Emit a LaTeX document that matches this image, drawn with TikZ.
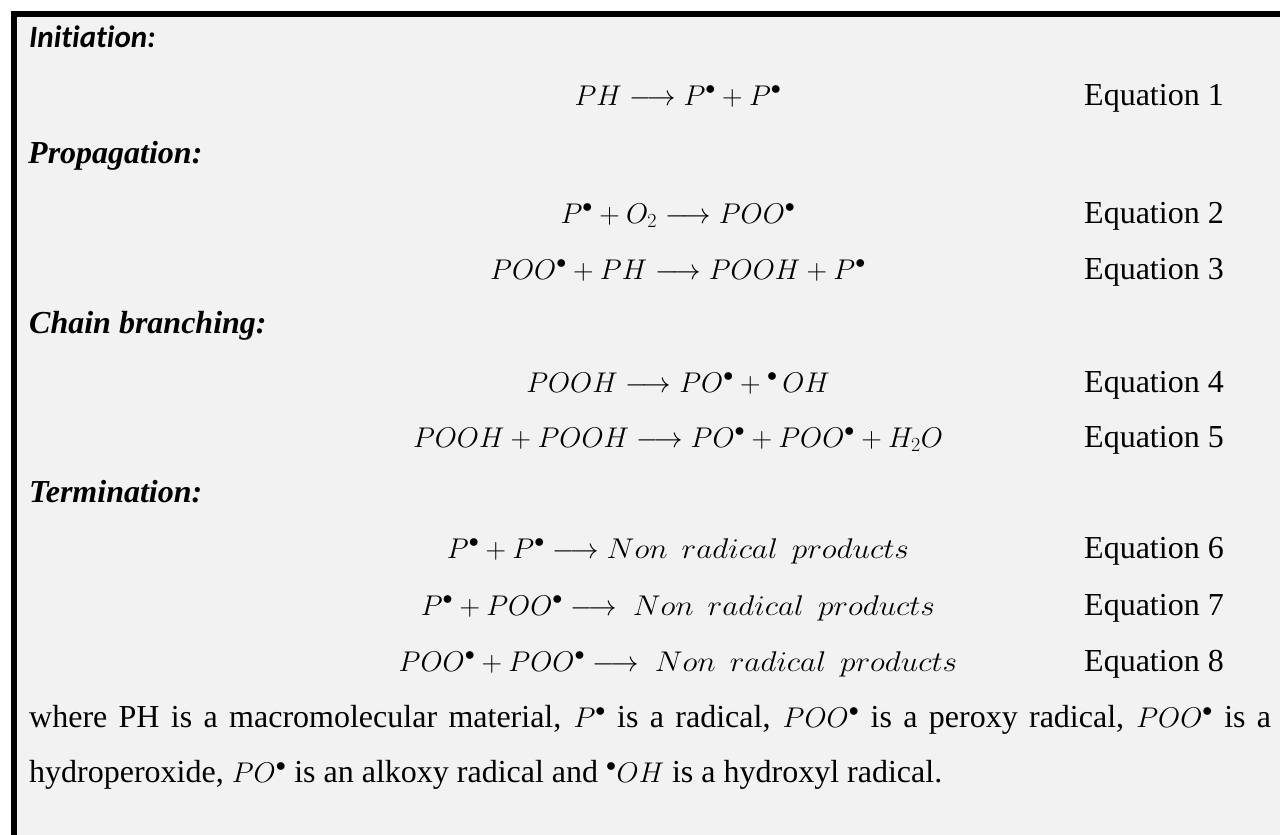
\documentclass[tikz,border=0pt]{standalone}
\usepackage{fix-cm}
\usepackage{graphicx}
\usepackage{fontspec}
\setmainfont{Liberation Serif}
\newfontfamily\calib[Ligatures=NoCommon]{Carlito}
\DeclareMathSizes{32}{28.5}{20}{15}
\newcommand\nrp{\scalebox{1.1}[1]{$Non\ \,radical\ \,products$}}
\definecolor{panel}{HTML}{F2F2F2}
\tikzset{
  head/.style={anchor=base west, inner sep=0pt, font=\fontsize{32}{38}\selectfont\bfseries\itshape},
  eqn/.style={anchor=base, inner sep=0pt, font=\fontsize{32}{38}\selectfont},
  eqlab/.style={anchor=base west, inner sep=0pt, font=\fontsize{32}{38}\selectfont},
  para/.style={anchor=base west, inner sep=0pt, font=\fontsize{32}{38}\selectfont},
}
\begin{document}
\begin{tikzpicture}[x=1pt,y=-1pt]
\useasboundingbox (0,0) rectangle (1280,835);
\fill[white] (0,0) rectangle (1280,835);
\fill[panel] (11,11) rectangle (1280,835);
\draw[line width=5.6pt] (11,13.8) -- (1280,13.8);
\draw[line width=5.6pt] (13.8,11) -- (13.8,835);
% headings
\node[anchor=base west, inner sep=0pt, font=\fontsize{31}{37}\selectfont\calib\bfseries\itshape] (h1) at (29,47) {Initiation:};
\node[head] (h2) at (28,163) {Propagation:};
\node[head] (h3) at (29,333) {Chain branching:};
\node[head] (h4) at (29,502) {Termination:};
% equations
\node[eqn] (e1) at (678,105) {$PH \longrightarrow P^{\bullet} + P^{\bullet}$};
\node[eqn] (e2) at (678,223) {$P^{\bullet} + O_2 \longrightarrow POO^{\bullet}$};
\node[eqn] (e3) at (678,279) {$POO^{\bullet} + PH \longrightarrow POOH + P^{\bullet}$};
\node[eqn] (e4) at (678,392) {$POOH \longrightarrow PO^{\bullet} + {}^{\bullet}\,OH$};
\node[eqn] (e5) at (678,447) {$POOH + POOH \longrightarrow PO^{\bullet} + POO^{\bullet} + H_2O$};
\node[eqn] (e6) at (678,558) {$P^{\bullet} + P^{\bullet} \longrightarrow$ \nrp};
\node[eqn] (e7) at (678,615) {$P^{\bullet} + POO^{\bullet} \longrightarrow \ $ \nrp};
\node[eqn] (e8) at (678,671) {$POO^{\bullet} + POO^{\bullet} \longrightarrow \ $ \nrp};
% labels
\node[eqlab] (l1) at (1084,105) {Equation 1};
\node[eqlab] (l2) at (1084,223) {Equation 2};
\node[eqlab] (l3) at (1084,279) {Equation 3};
\node[eqlab] (l4) at (1084,392) {Equation 4};
\node[eqlab] (l5) at (1084,447) {Equation 5};
\node[eqlab] (l6) at (1084,558) {Equation 6};
\node[eqlab] (l7) at (1084,615) {Equation 7};
\node[eqlab] (l8) at (1084,671) {Equation 8};
% paragraph
\node[para] (p1) at (29,727) {\makebox[1242pt][s]{where PH is a macromolecular material, $P^{\bullet}$ is a radical, $POO^{\bullet}$ is a peroxy radical, $POO^{\bullet}$ is a}};
\node[para] (p2) at (29,782) {hydroperoxide, $PO^{\bullet}$ is an alkoxy radical and ${}^{\bullet}OH$ is a hydroxyl radical.};
\end{tikzpicture}
\end{document}
